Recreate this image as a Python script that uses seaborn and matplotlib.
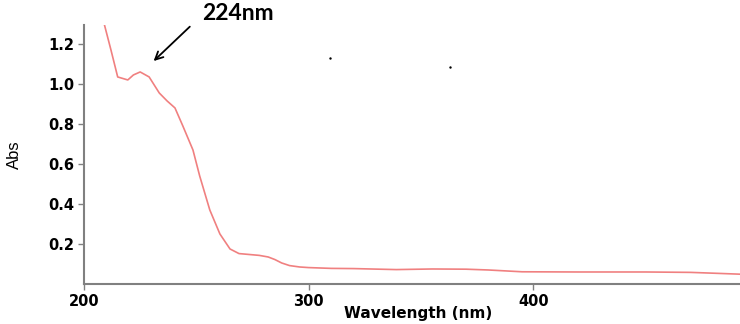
import seaborn as sns
import matplotlib.pyplot as plt
import pandas as pd

# absorbance spectrum
wavelength = [209, 212, 215, 219.5, 222, 225, 229, 233.5, 237, 240.5, 244, 248.5,
              251.5, 256, 260.5, 265, 269, 274, 278, 282, 285, 288, 291.5, 296,
              300, 310, 320, 339, 355, 370, 380, 395, 420, 450, 470, 480, 492]
absorbance = [1.30, 1.17, 1.035, 1.02, 1.045, 1.06, 1.035, 0.955, 0.915, 0.88, 0.79, 0.67,
              0.54, 0.37, 0.25, 0.175, 0.152, 0.147, 0.143, 0.135, 0.122, 0.105, 0.092, 0.085,
              0.082, 0.078, 0.077, 0.072, 0.075, 0.074, 0.07, 0.061, 0.06, 0.06, 0.058, 0.054, 0.049]

# two stray dots in the original scan
dot_x = [309.3, 363]
dot_y = [1.13, 1.085]

peak_label = '224nm'

df = pd.DataFrame({'wavelength': wavelength, 'abs': absorbance})

sns.set_style('white')
plt.rcParams['text.color'] = 'black'
plt.rcParams['xtick.color'] = 'black'
plt.rcParams['ytick.color'] = 'black'
plt.rcParams['axes.labelcolor'] = 'black'

fig = plt.figure(figsize=(7.4, 3.24), dpi=100)
ax = fig.add_axes([0.1135, 0.1235, 0.8865, 0.7995])

sns.lineplot(data=df, x='wavelength', y='abs', color='#f08080', linewidth=1.2, ax=ax)
sns.scatterplot(x=dot_x, y=dot_y, color='black', s=3, linewidth=0, ax=ax)

ax.set_xlim(200, 492)
ax.set_ylim(0, 1.295)
ax.set_xticks([200, 300, 400])
ax.set_yticks([0.2, 0.4, 0.6, 0.8, 1.0, 1.2])
ax.set_yticklabels(['0.2', '0.4', '0.6', '0.8', '1.0', '1.2'])

for lab in ax.get_xticklabels() + ax.get_yticklabels():
    lab.set_fontweight('bold')
    lab.set_fontsize(10.5)
    lab.set_fontfamily('DejaVu Sans')

ax.tick_params(axis='both', direction='out', length=4, width=1, color='#808080',
               left=True, bottom=True, pad=3)

ax.set_xlabel('Wavelength (nm)', fontsize=11, fontweight='bold',
              family='DejaVu Sans')
ax.xaxis.set_label_coords(0.51, -0.085)
ax.set_ylabel('Abs', fontsize=12, family='Liberation Sans')
ax.yaxis.set_label_coords(-0.095, 0.5)

sns.despine(ax=ax)
for s in ['left', 'bottom']:
    ax.spines[s].set_color('#808080')
    ax.spines[s].set_linewidth(1.5)

ax.annotate('', xy=(230.1, 1.105), xytext=(248, 1.296),
            arrowprops=dict(arrowstyle='->', color='black', lw=1.3,
                            mutation_scale=14),
            annotation_clip=False)
fig.text(238 / 740, 1 - 14 / 324, peak_label, fontsize=16.5, fontweight='bold',
         family='Lato', ha='center', va='center')

fig.savefig('out.png', dpi=100)
